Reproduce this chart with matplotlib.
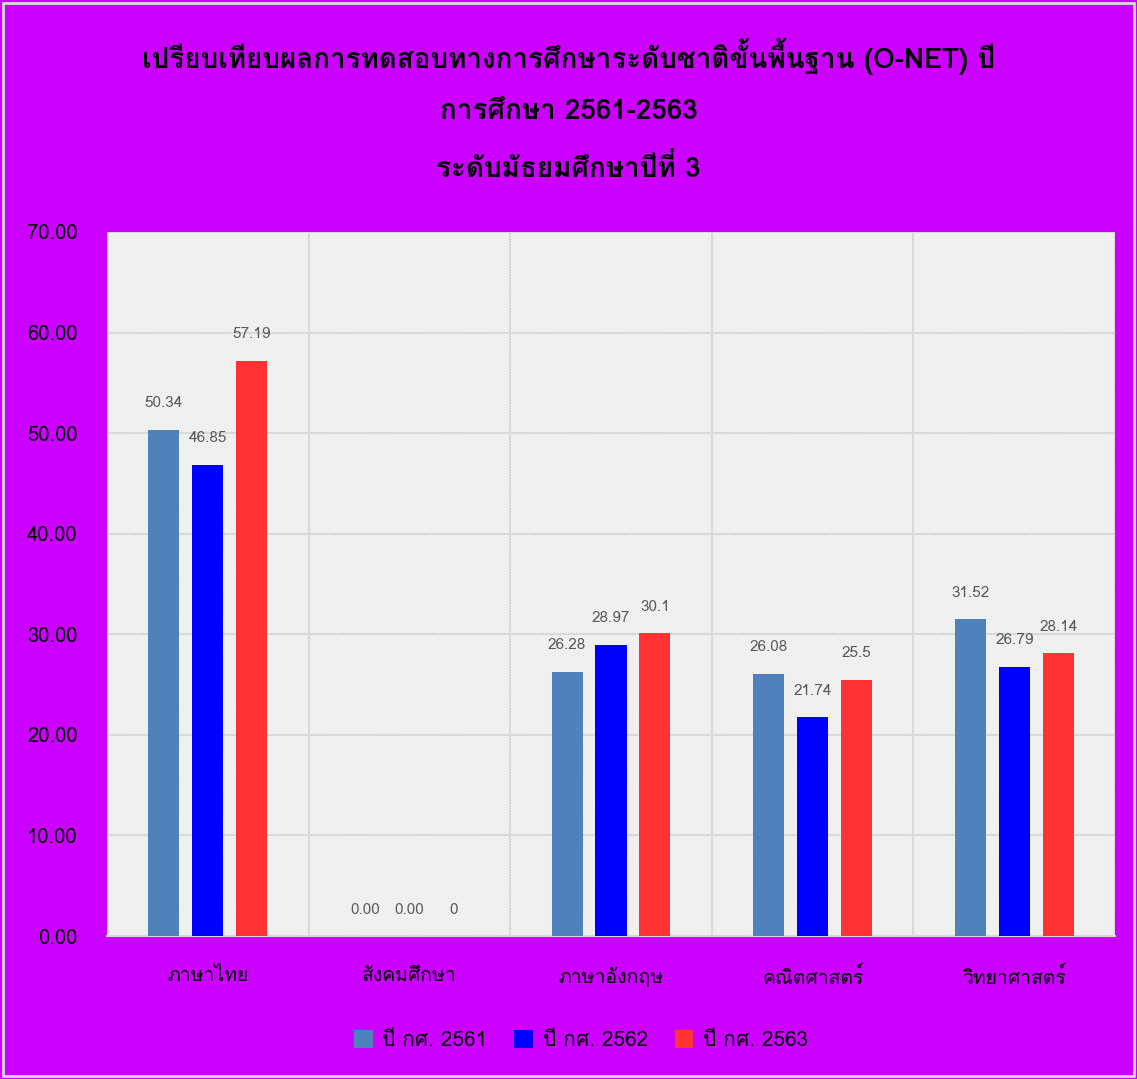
import matplotlib
matplotlib.use('Agg')
import matplotlib.pyplot as plt
import numpy as np

plt.rcParams['font.family'] = ['Loma', 'DejaVu Sans']
plt.rcParams['hatch.color'] = '#DCDCDC'
plt.rcParams['hatch.linewidth'] = 0.6

subjects = ['ภาษาไทย', 'สังคมศึกษา', 'ภาษาอังกฤษ', 'คณิตศาสตร์', 'วิทยาศาสตร์']
y2561 = [50.34, 0.00, 26.28, 26.08, 31.52]
y2562 = [46.85, 0.00, 28.97, 21.74, 26.79]
y2563 = [57.19, 0, 30.1, 25.5, 28.14]
labels2561 = ['50.34', '0.00', '26.28', '26.08', '31.52']
labels2562 = ['46.85', '0.00', '28.97', '21.74', '26.79']
labels2563 = ['57.19', '0', '30.1', '25.5', '28.14']
series_names = ['ปี กศ. 2561', 'ปี กศ. 2562', 'ปี กศ. 2563']
colors = ['#4F81BD', '#0000FF', '#FF3333']

title = ('เปรียบเทียบผลการทดสอบทางการศึกษาระดับชาติขั้นพื้นฐาน (O-NET) ปี\n'
         'การศึกษา 2561-2563\n'
         'ระดับมัธยมศึกษาปีที่ 3')

fig = plt.figure(figsize=(11.37, 10.79), dpi=100, facecolor='#CC00FF')
ax = fig.add_axes([0.0941, 0.1325, 0.8866, 0.6525])

# hatched white plot area
ax.set_facecolor('white')
ax.add_patch(plt.Rectangle((0, 0), 1, 1, transform=ax.transAxes, facecolor='white',
                           hatch='\\' * 12, edgecolor='#DCDCDC', linewidth=0, zorder=0))

x = np.arange(len(subjects))
w = 0.154
gap = 0.218
for i, (vals, labs) in enumerate(zip([y2561, y2562, y2563], [labels2561, labels2562, labels2563])):
    xs = x + (i - 1) * gap
    ax.bar(xs, vals, width=w, color=colors[i], label=series_names[i], zorder=3)
    for xi, v, t in zip(xs, vals, labs):
        ax.annotate(t, (xi, v), xytext=(0, 19), textcoords='offset points',
                    ha='center', va='center', fontsize=11, color='#595959', zorder=4)

ax.set_xlim(-0.5, len(subjects) - 0.5)
ax.set_ylim(0, 70)
ax.set_yticks(np.arange(0, 71, 10))
ax.set_yticklabels(['%.2f' % v for v in np.arange(0, 71, 10)], fontsize=14.5)
ax.set_xticks(x)
ax.set_xticklabels(subjects, fontsize=14)
ax.set_xticks(np.arange(-0.5, len(subjects)), minor=True)
ax.tick_params(axis='both', which='both', length=0, colors='black')
ax.tick_params(axis='x', pad=22)
ax.tick_params(axis='y', pad=21)
ax.grid(axis='y', which='major', color='#D9D9D9', linewidth=1.5, zorder=1)
ax.grid(axis='x', which='minor', color='#D9D9D9', linewidth=1.5, zorder=1)
ax.set_axisbelow(True)
for s in ['top', 'right', 'left']:
    ax.spines[s].set_visible(False)
ax.spines['bottom'].set_color('#D9D9D9')
ax.spines['bottom'].set_linewidth(1.5)

fig.text(0.5, 0.898, title, ha='center', va='center', multialignment='center',
         fontsize=20, fontweight='bold', linespacing=2.2, color='black')

fig.legend(loc='center', bbox_to_anchor=(0.511, 0.036), ncol=3, frameon=False,
           fontsize=15, handlelength=0.9, handleheight=0.9, handletextpad=0.45,
           columnspacing=1.3)

# light border round the figure
fig.patches.append(plt.Rectangle((0.003, 0.003), 0.994, 0.994, transform=fig.transFigure,
                                 fill=False, edgecolor='#D9D9D9', linewidth=2))

fig.savefig('out.png', dpi=100, facecolor=fig.get_facecolor())
